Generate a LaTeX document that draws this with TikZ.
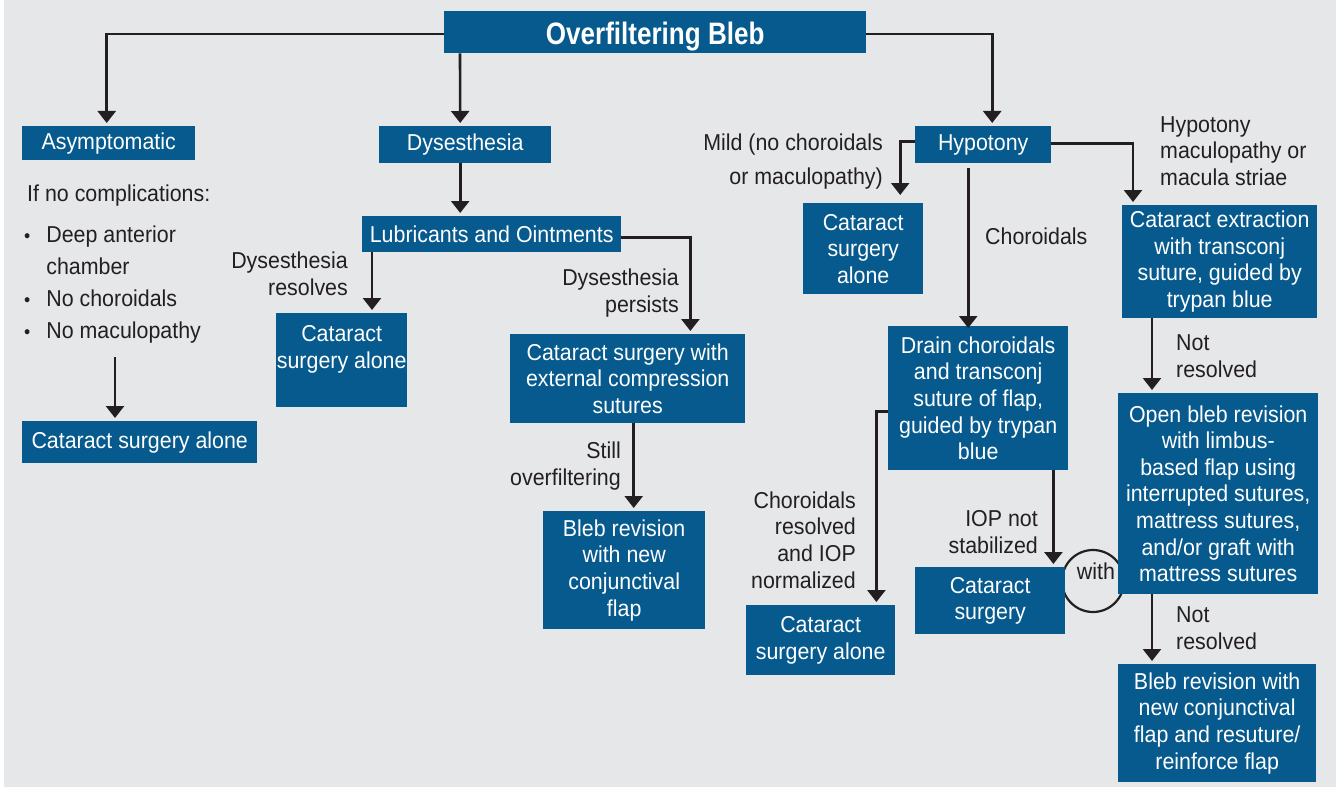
\documentclass[tikz,border=0pt]{standalone}
\usepackage{fontspec}
\setmainfont[FakeStretch=0.93]{Liberation Sans}
\newfontfamily\titlefont[FakeStretch=0.84]{Liberation Sans}
\usetikzlibrary{arrows.meta,backgrounds}
\definecolor{boxblue}{RGB}{6,90,142}
\definecolor{bggray}{RGB}{230,231,233}
\definecolor{txtdark}{RGB}{35,31,32}
\newcommand{\mybul}{{\fontsize{19}{19}\selectfont\textbullet}}
\tikzset{
  box/.style={fill=boxblue,text=white,align=center,inner sep=0pt,anchor=north west,
    font=\fontsize{23}{26.6}\selectfont},
  lbl/.style={text=txtdark,inner sep=0pt,font=\fontsize{23}{26.6}\selectfont},
  arr/.style={draw=txtdark,line width=2.6pt,-{Triangle[width=18pt,length=12pt]},shorten >=3pt},
}
\begin{document}
\begin{tikzpicture}[x=1pt,y=-1pt]
\useasboundingbox (0,0) rectangle (1336,789);
\begin{pgfonlayer}{background}
\fill[white] (0,0) rectangle (1336,789);
\fill[bggray] (4,0) rectangle (1336,787);
\end{pgfonlayer}

% "with" loop, drawn before the boxes so they cover it
\node[circle,draw=txtdark,line width=2.2pt,minimum size=62pt,inner sep=0pt] (withc) at (1093,581) {};

% boxes
\node[box,minimum width=422,minimum height=42,text depth=-2pt,font=\titlefont\bfseries\fontsize{31}{34}\selectfont] (title) at (444,11) {\raisebox{-3pt}{Overfiltering Bleb}};
\node[box,minimum width=173,minimum height=34] (asym) at (22,126) {Asymptomatic};
\node[box,minimum width=172,minimum height=37] (dys) at (379,126) {Dysesthesia};
\node[box,minimum width=136,minimum height=37] (hyp) at (915,126) {Hypotony};
\node[box,minimum width=235,minimum height=42] (csa1) at (22,421) {Cataract surgery alone};
\node[box,minimum width=259,minimum height=36] (lub) at (362,216) {Lubricants and Ointments};
\node[box,minimum width=131,minimum height=94] (csa2) at (276,313) {Cataract\\surgery alone\\\mbox{}};
\node[box,minimum width=235,minimum height=89] (cse) at (510,334) {Cataract surgery with\\external compression\\sutures};
\node[box,minimum width=162,minimum height=118] (brv1) at (543,511) {Bleb revision\\with new\\conjunctival\\flap};
\node[box,minimum width=120,minimum height=91] (csa3) at (803,203) {Cataract\\surgery\\alone};
\node[box,minimum width=180,minimum height=144] (drain) at (888,326) {Drain choroidals\\and transconj\\suture of flap,\\guided by trypan\\blue};
\node[box,minimum width=149,minimum height=70] (csa4) at (746,605) {Cataract\\surgery alone};
\node[box,minimum width=150,minimum height=67] (cs) at (915,567) {Cataract\\surgery};
\node[box,minimum width=195,minimum height=113] (cex) at (1122,205) {Cataract extraction\\with transconj\\suture, guided by\\trypan blue};
\node[box,minimum width=200,minimum height=201] (obr) at (1118,393) {Open bleb revision\\with limbus-\\based flap using\\interrupted sutures,\\mattress sutures,\\and/or graft with\\mattress sutures};
\node[box,minimum width=198,minimum height=118] (brv2) at (1118,664) {Bleb revision with\\new conjunctival\\flap and resuture/\\reinforce flap};

\node[lbl] (withl) at (1096,571) {with};

% labels
\node[lbl,anchor=west] (ifno) at (27,196) {If no complications:};
\node[lbl,anchor=north west,font=\fontsize{23}{32}\selectfont] (list) at (24,220)
  {\begin{tabular}{@{}l@{\hspace{16pt}}l@{}}\mybul & Deep anterior\\ & chamber\\ \mybul & No choroidals\\ \mybul & No maculopathy\end{tabular}};
\coordinate (la) at (115,357);
\node[lbl,anchor=east,align=right] (lres) at (348,274) {Dysesthesia\\resolves};
\node[lbl,anchor=east,align=right] (lper) at (679,293) {Dysesthesia\\persists};
\node[lbl,anchor=east,align=right] (lstill) at (621,466) {Still\\overfiltering};
\node[lbl,anchor=east,align=right,font=\fontsize{23}{34}\selectfont] (lmild) at (883,162) {Mild (no choroidals\\or maculopathy)};
\node[lbl,anchor=west] (lchor) at (985,236) {Choroidals};
\node[lbl,anchor=east,align=right] (lcres) at (856,540) {Choroidals\\resolved\\and IOP\\normalized};
\node[lbl,anchor=east,align=right] (liop) at (1038,532) {IOP not\\stabilized};
\node[lbl,anchor=west,align=left] (lmac) at (1160,151) {Hypotony\\maculopathy or\\macula striae};
\node[lbl,anchor=west,align=left] (lnr1) at (1176,356) {Not\\resolved};
\node[lbl,anchor=west,align=left] (lnr2) at (1176,628) {Not\\resolved};

% connectors
\draw[arr] ([yshift=-2]title.west) -| ([xshift=-2]asym.north);
\draw[arr] (title.south -| 460,0) -- ([xshift=-5]dys.north);
\draw[arr] ([yshift=-2]title.east) -| ([xshift=9]hyp.north);
\draw[arr] ([xshift=-5]dys.south) -- ([xshift=-5]dys.south |- lub.north);
\draw[arr] (la) -- (la |- csa1.north);
\draw[arr] ([xshift=10]lub.south west) -- ([xshift=10]lub.south west |- csa2.north);
\draw[arr] ([yshift=-3]lub.east) -| ([xshift=-55]cse.north east);
\draw[arr] ([xshift=6]cse.south) -- ([xshift=6]cse.south |- brv1.north);
\draw[arr,shorten >=8pt] ([yshift=3]hyp.west) -| ([xshift=37]csa3.north);
\draw[arr] ([xshift=-15,yshift=-5]hyp.south) -- ([xshift=-15,yshift=-5]hyp.south |- drain.north);
\draw[arr] ([yshift=1]hyp.east) -| ([xshift=11]cex.north west);
\draw[arr] ([yshift=-13]drain.west) -| ([xshift=-19]csa4.north east);
\draw[arr] ([xshift=-15]drain.south east) -- ([xshift=-15]drain.south east |- cs.north);
\draw[arr] ([xshift=30]cex.south west) -- ([xshift=30]cex.south west |- obr.north);
\draw[arr] ([xshift=34]obr.south west) -- ([xshift=34]obr.south west |- brv2.north);
\end{tikzpicture}
\end{document}
